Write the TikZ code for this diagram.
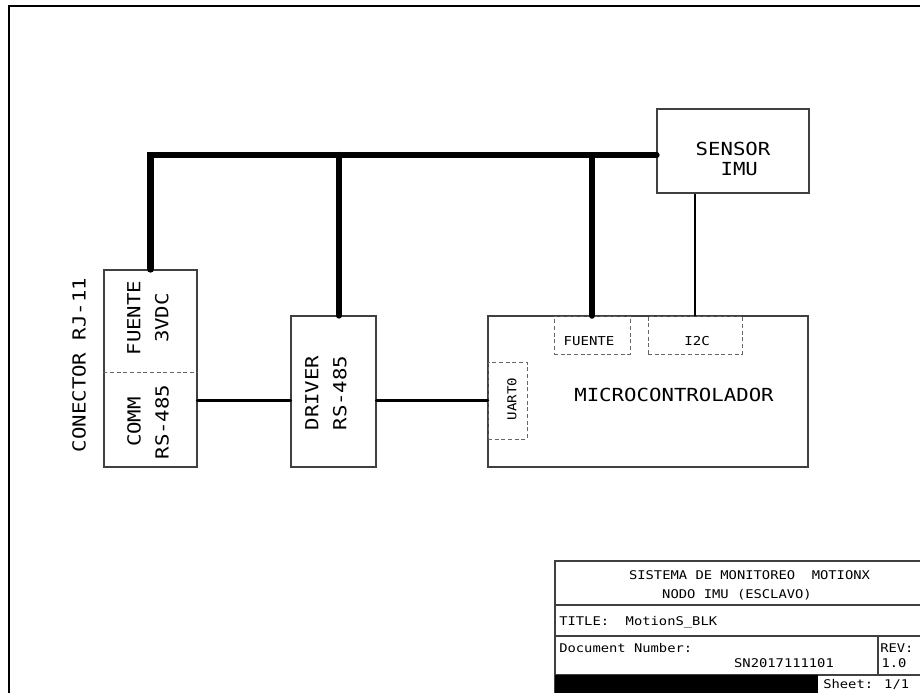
\documentclass[tikz,border=0pt]{standalone}
\usepackage{fontspec}
\newfontfamily\cadfont[FakeStretch=1.15]{DejaVu Sans Mono}
\newcommand{\bigtxt}{\cadfont\fontsize{13.5}{21}\selectfont}
\newcommand{\smalltxt}{\cadfont\fontsize{9.2}{12}\selectfont}
\newcommand{\tbtxt}{\cadfont\fontsize{9}{12}\selectfont}

\begin{document}
\begin{tikzpicture}[x=.75pt,y=-.75pt,
 blk/.style={draw=black!75,line width=.8pt,inner sep=0pt},
 port/.style={draw=black!60,dash pattern=on 3pt off 2pt,line width=.6pt,inner sep=0pt},
 thin/.style={draw=black!75,line width=.8pt},
 bus/.style={line width=4.8pt,line cap=round},
 sig/.style={line width=2.5pt,line cap=round},
 txt/.style={font=\bigtxt,align=center,inner sep=0pt},
 tag/.style={font=\smalltxt,inner sep=0pt},
 tb/.style={font=\tbtxt,inner sep=0pt}]
 \useasboundingbox (0,0) rectangle (920,692);
 \clip (0,0) rectangle (920,692);
 \draw[line width=1.5pt] (9,6) rectangle (940,720);
 % bloques
 \node[blk,minimum width=69.75pt,minimum height=147.75pt] (rj) at (150.5,368.5) {};
 \node[blk,minimum width=63.75pt,minimum height=113.25pt] (drv) at (333.5,391.5) {};
 \node[blk,minimum width=240pt,minimum height=113.25pt] (mcu) at (648,391.5) {};
 \node[blk,minimum width=114pt,minimum height=63pt] (imu) at (733,151) {};
 \node[port,minimum width=57pt,minimum height=28.5pt] (pwr) at (592,335) {};
 \node[port,minimum width=70.5pt,minimum height=28.5pt] (i2c) at (695,335) {};
 \node[port,minimum width=29.25pt,minimum height=57.75pt] (uart) at (507.5,400.5) {};
 \draw[port] (rj.west |- 0,372) -- (rj.east |- 0,372);
 % textos
 \node[txt,rotate=90] (rjlbl) at (79,365) {CONECTOR RJ-11};
 \node[txt,rotate=90] (pwrlbl) at (148,318) {FUENTE\\3VDC};
 \node[txt,rotate=90] (comlbl) at (148,422) {COMM\\RS-485};
 \node[txt,rotate=90] (drvlbl) at (326,393) {DRIVER\\RS-485};
 \node[txt] (mculbl) at (674,395) {MICROCONTROLADOR};
 \node[txt,align=left,font=\cadfont\fontsize{13.5}{15}\selectfont] (imulbl) at (733,158.5) {SENSOR\\\hphantom{SE}IMU};
 \node[tag] (pwrtag) at (589,341) {FUENTE};
 \node[tag] (i2ctag) at (697,341) {I2C};
 \node[tag,rotate=90] (uarttag) at (512,399) {UART0};
 % conexiones
 \coordinate (busend) at (imu.west |- 0,155);
 \coordinate (drvtop) at ([xshift=4.1pt]drv.north);
 \draw[bus] (rj.north) |- (busend);
 \draw[bus] (drvtop) -- (drvtop |- busend);
 \draw[bus] (pwr.north) -- (pwr.north |- busend);
 \draw[line width=2.2pt] (i2c.north) -- (i2c.north |- imu.south);
 \draw[sig] (rj.east |- uart.west) -- (drv.west |- uart.west);
 \draw[sig] (drv.east |- uart.west) -- (uart.west);
 % cajetin
 \draw[thin] (555,561) rectangle (940,720);
 \draw[thin] (555,605) -- (940,605) (555,636) -- (940,636) (555,675) -- (940,675) (878,636) -- (878,675);
 \fill (555,675) rectangle (818,720);
 \node[tb,anchor=base] (tbsys) at (749.5,579) {SISTEMA DE MONITOREO\ \ MOTIONX};
 \node[tb,anchor=base] (tbnodo) at (737,598) {NODO IMU (ESCLAVO)};
 \node[tb,anchor=base west] (tbtitle) at (559,625) {TITLE:\ \ MotionS\_BLK};
 \node[tb,anchor=base west] (tbdoc) at (559,652) {Document Number:};
 \node[tb,anchor=base] (tbnum) at (784,667) {SN2017111101};
 \node[tb,anchor=base west] (tbrev) at (880,652) {REV:};
 \node[tb,anchor=base] (tbrevno) at (894,667) {1.0};
 \node[tb,anchor=base west] (tbsheet) at (823,688) {Sheet: 1/1};
\end{tikzpicture}
\end{document}
